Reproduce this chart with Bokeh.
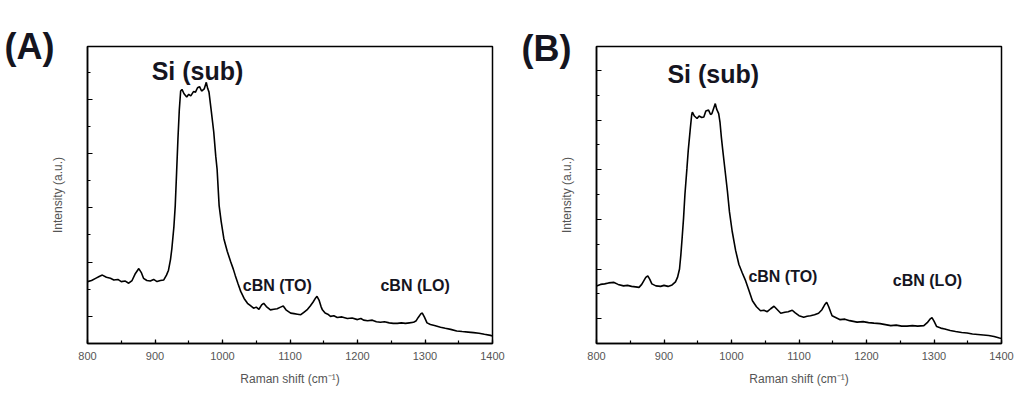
from bokeh.plotting import figure
from bokeh.layouts import row
from bokeh.models import Range1d, FixedTicker, Label, Title
from bokeh.embed import file_html
from bokeh.resources import INLINE

# ---------------- data ----------------
x_ticks = [800, 900, 1000, 1100, 1200, 1300, 1400]
x_minor = [800, 850, 900, 950, 1000, 1050, 1100, 1150, 1200, 1250, 1300, 1350, 1400]

shift_a = [800, 806, 812, 818, 822, 828, 834, 839, 845, 850, 856, 861, 866, 871, 876, 880, 883, 888,
           893, 898, 903, 908, 913, 917, 920, 923, 925, 928, 930, 932, 934, 936, 938, 940, 943, 947,
           950, 953, 957, 960, 963, 966, 969, 973, 976, 978, 980, 983, 987, 990, 992, 995, 998, 1002,
           1007, 1012, 1016, 1019, 1023, 1027, 1032, 1037, 1041, 1046, 1050, 1054, 1058, 1061, 1065,
           1071, 1076, 1081, 1086, 1090, 1094, 1101, 1106, 1111, 1116, 1121, 1126, 1130, 1134, 1138,
           1140, 1143, 1146, 1148, 1152, 1156, 1160, 1165, 1170, 1177, 1185, 1192, 1200, 1205, 1209,
           1215, 1222, 1228, 1234, 1240, 1247, 1253, 1259, 1265, 1271, 1277, 1283, 1287, 1290, 1294,
           1296, 1299, 1303, 1308, 1314, 1323, 1330, 1338, 1347, 1355, 1364, 1372, 1380, 1388, 1397, 1400]
int_a = [1640, 1660, 1700, 1740, 1760, 1720, 1700, 1670, 1680, 1640, 1650, 1610, 1660, 1790, 1880, 1800,
         1700, 1660, 1650, 1680, 1640, 1660, 1670, 1760, 1850, 2050, 2250, 2650, 3040, 3650, 4270, 4800,
         5150, 5180, 5100, 5040, 5090, 5060, 5140, 5130, 5210, 5230, 5150, 5190, 5310, 5200, 5130, 4820,
         4400, 3950, 3710, 3040, 2750, 2430, 2200, 2010, 1870, 1750, 1600, 1460, 1330, 1240, 1200, 1150,
         1170, 1130, 1210, 1240, 1180, 1120, 1130, 1140, 1170, 1190, 1120, 1060, 1050, 1040, 1030, 1080,
         1130, 1190, 1260, 1340, 1370, 1300, 1180, 1120, 1060, 1040, 1000, 1010, 980, 990, 960, 970, 940,
         960, 930, 920, 930, 900, 890, 900, 880, 870, 870, 880, 870, 880, 890, 920, 980, 1050, 1060, 990,
         880, 850, 830, 800, 780, 760, 730, 720, 710, 700, 690, 670, 650, 640]

shift_b = [800, 806, 812, 818, 826, 832, 840, 846, 852, 858, 863, 867, 870, 873, 876, 879, 882, 888,
           895, 900, 906, 912, 917, 920, 923, 925, 927, 929, 931, 934, 936, 939, 941, 942, 945, 949,
           952, 956, 959, 962, 966, 969, 971, 974, 976, 978, 981, 983, 985, 987, 989, 994, 997, 1001,
           1006, 1011, 1016, 1021, 1026, 1031, 1037, 1043, 1048, 1053, 1058, 1063, 1068, 1073, 1079,
           1084, 1090, 1094, 1100, 1107, 1112, 1117, 1123, 1129, 1134, 1138, 1141, 1144, 1147, 1149,
           1155, 1161, 1168, 1175, 1186, 1195, 1203, 1211, 1220, 1228, 1236, 1244, 1252, 1260, 1268,
           1276, 1285, 1290, 1294, 1297, 1300, 1304, 1310, 1316, 1324, 1332, 1341, 1349, 1357, 1365,
           1373, 1381, 1389, 1397, 1400]
int_b = [1660, 1690, 1700, 1720, 1730, 1690, 1660, 1670, 1650, 1640, 1630, 1690, 1760, 1830, 1860, 1790,
         1700, 1660, 1650, 1670, 1650, 1680, 1740, 1830, 2000, 2290, 2650, 3030, 3500, 4030, 4400, 4830,
         5100, 5160, 5080, 5030, 5080, 5050, 5060, 5180, 5200, 5110, 5130, 5250, 5330, 5220, 5130, 4950,
         4650, 4400, 4160, 3560, 3150, 2760, 2380, 2090, 1920, 1760, 1560, 1360, 1240, 1160, 1170, 1140,
         1200, 1250, 1180, 1110, 1130, 1140, 1170, 1120, 1060, 1030, 1050, 1060, 1080, 1110, 1180, 1280,
         1330, 1240, 1130, 1060, 1020, 980, 990, 960, 930, 940, 920, 910, 900, 880, 860, 870, 850, 850,
         860, 850, 860, 920, 990, 1020, 950, 840, 810, 790, 760, 740, 720, 710, 690, 680, 670, 660, 640,
         610, 600]

y_major_a = [1000, 2000, 3000, 4000, 5000]
y_minor_a = [500, 1500, 2500, 3500, 4500, 5500]
y_major_b = [1000, 2000, 3000, 4000, 5000, 6000]
y_minor_b = [500, 1500, 2500, 3500, 4500, 5500, 6500]

FONT = "Liberation Sans"
TXT = "#15151f"
GRAY = "#555555"


def make_panel(xs, ys, width, height, borders, y_end, ymaj, ymin, labels, letter, letter_pos):
    left, right, top, bottom = borders
    p = figure(width=width, height=height, output_backend="svg", toolbar_location=None,
               x_range=Range1d(800, 1400), y_range=Range1d(500, y_end),
               min_border_left=left, min_border_right=right,
               min_border_top=top, min_border_bottom=bottom)
    p.background_fill_color = "white"
    p.border_fill_color = "white"
    p.outline_line_color = "black"
    p.outline_line_width = 1.5
    p.grid.visible = False

    p.line(xs, ys, line_color="black", line_width=1.6)

    xa = p.xaxis[0]
    xa.ticker = FixedTicker(ticks=x_ticks, minor_ticks=x_minor)
    xa.major_tick_in = 4
    xa.major_tick_out = 0
    xa.minor_tick_in = 3
    xa.minor_tick_out = 0
    xa.axis_line_width = 1.5
    xa.major_tick_line_width = 1.2
    xa.minor_tick_line_width = 1.2
    xa.major_label_text_font = FONT
    xa.major_label_text_font_size = "11px"
    xa.major_label_text_color = GRAY
    xa.major_label_standoff = 8
    xa.axis_label = "Raman shift (cm\u207b\u00b9)"
    xa.axis_label_text_font = FONT
    xa.axis_label_text_font_size = "12px"
    xa.axis_label_text_font_style = "normal"
    xa.axis_label_text_color = GRAY
    xa.axis_label_standoff = 9

    ya = p.yaxis[0]
    ya.ticker = FixedTicker(ticks=ymaj, minor_ticks=ymin)
    ya.major_tick_in = 5
    ya.major_tick_out = 0
    ya.minor_tick_in = 3
    ya.minor_tick_out = 0
    ya.axis_line_width = 1.5
    ya.major_tick_line_width = 1.2
    ya.minor_tick_line_width = 1.2
    ya.major_label_overrides = {t: "" for t in ymaj}
    ya.major_label_text_font_size = "1px"
    ya.major_label_standoff = 0
    ya.axis_label = "Intensity (a.u.)"
    ya.axis_label_text_font = FONT
    ya.axis_label_text_font_size = "12px"
    ya.axis_label_text_font_style = "normal"
    ya.axis_label_text_color = GRAY
    ya.axis_label_standoff = 23

    for (txt, x, y, size, align, base) in labels:
        p.add_layout(Label(x=x, y=y, text=txt, text_font=FONT, text_font_style="bold",
                           text_font_size=size, text_color=TXT, text_align=align,
                           text_baseline=base))

    # panel letter as a title in the top border
    p.add_layout(Title(text=letter, align="left", offset=letter_pos[0],
                       vertical_align="bottom", standoff=letter_pos[1],
                       text_font=FONT, text_font_style="bold", text_font_size="36px",
                       text_color=TXT), "above")
    return p


labels_a = [
    ("Si (sub)", 963, 5514, "25px", "center", "middle"),
    ("cBN (TO)", 1030, 1569, "16px", "left", "middle"),
    ("cBN (LO)", 1234, 1569, "16px", "left", "middle"),
]
labels_b = [
    ("Si (sub)", 973, 5920, "25px", "center", "middle"),
    ("cBN (TO)", 1025, 1840, "16px", "left", "middle"),
    ("cBN (LO)", 1239, 1770, "16px", "left", "middle"),
]

pa = make_panel(shift_a, int_a, 516, 410, (87, 24, 46, 64), 5970, y_major_a, y_minor_a,
                labels_a, "(A)", (-83, -40))
pb = make_panel(shift_b, int_b, 504, 410, (80, 19, 44, 67), 6480, y_major_b, y_minor_b,
                labels_b, "(B)", (-75, -44))

layout = row(pa, pb, spacing=0)
open("out.html", "w").write(file_html(layout, INLINE))
